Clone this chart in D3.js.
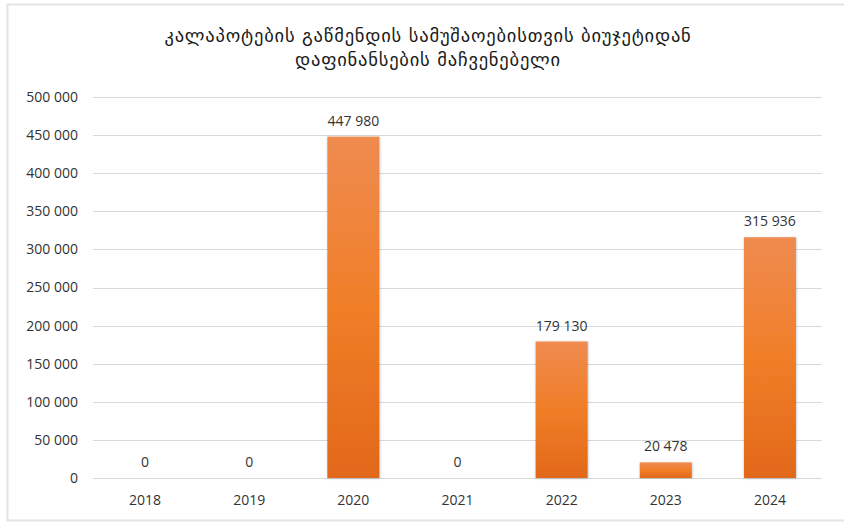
<!DOCTYPE html>
<html>
<head>
<meta charset="utf-8">
<script src="https://cdn.jsdelivr.net/npm/d3@7"></script>
<style>
    body { margin: 0; background: #fff; }
    svg text { font-family: "Open Sans", "DejaVu Sans", sans-serif; fill: #333; }
    .title { font-family: "DejaVu Sans", sans-serif; font-size: 18.5px; letter-spacing: 0.8px; fill: #1a1a1a; }
</style>
</head>
<body>
<div id="chart"></div>
<script>
// Chart data
const titleLines = ['კალაპოტების გაწმენდის სამუშაოებისთვის ბიუჯეტიდან', 'დაფინანსების მაჩვენებელი'];
const years = ['2018', '2019', '2020', '2021', '2022', '2023', '2024'];
const funding = [0, 0, 447980, 0, 179130, 20478, 315936];
const yTicks = [0, 50000, 100000, 150000, 200000, 250000, 300000, 350000, 400000, 450000, 500000];

const width = 844;
const height = 523;
const margin = { top: 97, right: 15, bottom: 45, left: 93 };

const fmt = d3.formatLocale({ decimal: '.', thousands: ' ', grouping: [3], currency: ['', ''] }).format(',d');

const svg = d3.select('#chart').append('svg')
    .attr('width', width)
    .attr('height', height);

// Gradient for the bars
const defs = svg.append('defs');
const grad = defs.append('linearGradient')
    .attr('id', 'barGrad')
    .attr('x1', 0).attr('y1', 0).attr('x2', 0).attr('y2', 1);
grad.append('stop').attr('offset', '0%').attr('stop-color', '#ef8b50');
grad.append('stop').attr('offset', '50%').attr('stop-color', '#f07e27');
grad.append('stop').attr('offset', '100%').attr('stop-color', '#e2681a');

const shadow = defs.append('filter').attr('id', 'shadow')
    .attr('x', '-20%').attr('y', '-5%').attr('width', '140%').attr('height', '110%');
shadow.append('feDropShadow')
    .attr('dx', 0.5).attr('dy', 0.5).attr('stdDeviation', 1)
    .attr('flood-color', '#000').attr('flood-opacity', 0.25);

// Outer frame
svg.append('rect')
    .attr('x', 7.5).attr('y', 4.5)
    .attr('width', width - 4).attr('height', height - 7)
    .attr('fill', 'none')
    .attr('stroke', '#e3e3e3')
    .attr('stroke-width', 2);

// Title
svg.append('text')
    .attr('class', 'title')
    .attr('text-anchor', 'middle')
    .selectAll('tspan')
    .data(titleLines)
    .enter().append('tspan')
    .attr('x', 428)
    .attr('y', (d, i) => 42 + i * 24)
    .text(d => d);

// Scales
const x = d3.scaleBand()
    .domain(years)
    .range([margin.left, width - margin.right - 7])
    .paddingInner(0.5)
    .paddingOuter(0.25);

const y = d3.scaleLinear()
    .domain([0, 500000])
    .range([height - margin.bottom, margin.top]);

// Gridlines
svg.append('g')
    .selectAll('line')
    .data(yTicks)
    .enter().append('line')
    .attr('x1', margin.left)
    .attr('x2', width - margin.right - 7)
    .attr('y1', d => Math.round(y(d)) + 0.5)
    .attr('y2', d => Math.round(y(d)) + 0.5)
    .attr('stroke', '#d9d9d9')
    .attr('stroke-width', 1);

// Y axis labels
const yAxis = svg.append('g')
    .attr('transform', `translate(${margin.left - 15},0)`)
    .call(d3.axisLeft(y).tickValues(yTicks).tickFormat(fmt).tickSize(0).tickPadding(0));
yAxis.select('.domain').remove();
yAxis.selectAll('text')
    .style('font-size', '14px')
    .attr('fill', '#333');

// X axis labels
const xAxis = svg.append('g')
    .attr('transform', `translate(0,${height - margin.bottom})`)
    .call(d3.axisBottom(x).tickSize(0).tickPadding(17));
xAxis.select('.domain').remove();
xAxis.selectAll('text')
    .style('font-size', '14px')
    .attr('fill', '#333');

// Bars
svg.append('g')
    .selectAll('rect')
    .data(years.map((yr, i) => ({ year: yr, value: funding[i] })))
    .enter().append('rect')
    .filter(d => d.value > 0)
    .attr('x', d => x(d.year))
    .attr('y', d => y(d.value))
    .attr('width', x.bandwidth())
    .attr('height', d => y(0) - y(d.value))
    .attr('fill', 'url(#barGrad)')
    .attr('filter', 'url(#shadow)');

// Data labels
svg.append('g')
    .selectAll('text')
    .data(years.map((yr, i) => ({ year: yr, value: funding[i] })))
    .enter().append('text')
    .attr('x', d => x(d.year) + x.bandwidth() / 2)
    .attr('y', d => y(d.value) - 11)
    .attr('text-anchor', 'middle')
    .style('font-size', '14px')
    .attr('fill', '#222')
    .text(d => fmt(d.value));
</script>
</body>
</html>
